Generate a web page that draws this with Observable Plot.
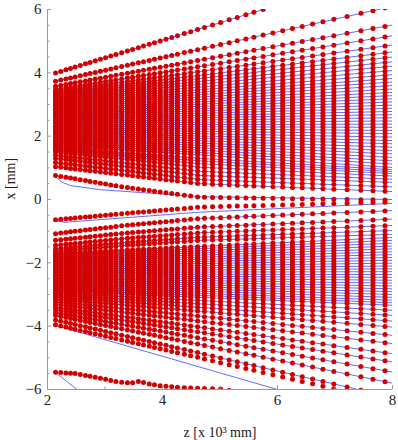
<!DOCTYPE html>
<html><head><meta charset="utf-8">
<script src="https://cdn.jsdelivr.net/npm/d3@7"></script>
<script src="https://cdn.jsdelivr.net/npm/@observablehq/plot@0.6"></script>
<style>html,body{margin:0;padding:0;background:#fff} svg{display:block}</style>
</head><body><div id="chart"></div>
<script>
// z positions (x 10^3 mm) of the sampled columns of red dots
const zColumns = [2.14, 2.23, 2.32, 2.40, 2.48, 2.57, 2.66, 2.74, 2.83, 2.92, 3.01, 3.10, 3.19, 3.29, 3.39, 3.48, 3.58, 3.67, 3.77, 3.86, 3.96, 4.06, 4.16, 4.26, 4.38, 4.49, 4.61, 4.73, 4.87, 5.01, 5.16, 5.30, 5.45, 5.59, 5.75, 5.92, 6.09, 6.26, 6.43, 6.61, 6.79, 6.98, 7.21, 7.45, 7.66, 7.87];

// straight trajectories: [x at z=2.13, x at z=8] (mm)
const straightKnotsZ = [2.13, 8];
const upperStraight = [[3.99,7.25],[3.73,6.10],[3.57,5.51],[3.47,5.17],[3.41,4.88],[3.36,4.66],[3.31,4.50],[3.26,4.35],[3.21,4.21],[3.16,4.07],[3.11,3.94],[3.06,3.82],[3.01,3.71],[2.96,3.60],[2.91,3.49],[2.86,3.38],[2.81,3.28],[2.76,3.18],[2.71,3.08],[2.66,2.98],[2.61,2.88],[2.56,2.78],[2.51,2.68],[2.46,2.58],[2.41,2.48],[2.36,2.38],[2.31,2.28],[2.26,2.18],[2.21,2.08],[2.16,1.97],[2.11,1.86],[2.06,1.76],[2.01,1.65],[1.96,1.54],[1.91,1.44],[1.86,1.33],[1.81,1.22],[1.76,1.12],[1.71,1.01]];
const lowerStraight = [[-1.70,-1.20],[-1.75,-1.29],[-1.80,-1.38],[-1.85,-1.47],[-1.90,-1.56],[-1.95,-1.65],[-2.00,-1.74],[-2.05,-1.83],[-2.10,-1.92],[-2.15,-2.01],[-2.20,-2.10],[-2.25,-2.19],[-2.30,-2.28],[-2.35,-2.37],[-2.40,-2.46],[-2.45,-2.55],[-2.50,-2.64],[-2.55,-2.73],[-2.60,-2.82],[-2.65,-2.91],[-2.70,-3.00],[-2.75,-3.09],[-2.80,-3.18],[-2.85,-3.26],[-2.90,-3.34],[-2.96,-3.50],[-3.02,-3.66],[-3.08,-3.84],[-3.15,-4.03],[-3.23,-4.29],[-3.31,-4.55],[-3.40,-4.87],[-3.48,-5.13],[-3.57,-5.45],[-3.66,-5.80],[-3.80,-6.25]];

// bending trajectories near the axis: x at z = 2.13, 3.3, 4.65, 8
const curvedKnotsZ = [2.13, 3.3, 4.65, 8];
const curvedTracks = [[1.66,1.48,1.30,0.94],[1.61,1.42,1.22,0.88],[1.56,1.36,1.13,0.82],[1.50,1.28,1.02,0.74],[1.40,1.16,0.89,0.64],[1.30,1.05,0.76,0.54],[1.17,0.92,0.63,0.40],[1.04,0.79,0.50,0.25],[-1.08,-0.83,-0.60,-0.35],[-1.29,-1.07,-0.87,-0.62],[-1.45,-1.24,-1.05,-0.82],[-1.56,-1.37,-1.19,-0.98],[-1.64,-1.46,-1.29,-1.10]];

// tracks where simulation (dots) and model (line) differ
const outerDotsX = [-3.95, -6.40];          // at z = 2.13, 8
const outerLineX = [-3.97, -7.05];          // at z = 2.13, 8
const centerUpDotsX = [0.76, 0.40, 0.07, -0.02];   // at curvedKnotsZ
const centerUpLineZ = [2.13, 2.25, 2.40, 2.92, 3.78, 4.65, 8];
const centerUpLineX = [0.74, 0.55, 0.44, 0.31, 0.20, 0.09, 0.00];
const centerLowDotsX = [-0.64, -0.45, -0.24, -0.08]; // at curvedKnotsZ
const centerLowLineZ = [2.13, 2.30, 4.65, 8];
const centerLowLineX = [-0.66, -0.72, -0.40, -0.12];
const bottomDotsZ = [2.13, 2.50, 2.85, 3.20, 3.45, 3.60, 3.75, 3.95, 4.40, 5.00, 5.40];
const bottomDotsX = [-5.45, -5.50, -5.62, -5.75, -5.80, -5.74, -5.82, -5.88, -5.95, -5.98, -6.10];
const bottomLineZ = [2.13, 2.65];
const bottomLineX = [-5.45, -6.20];

// axes
const xMajorTicks = [2, 4, 6, 8];
const xMinorTicks = [3, 5, 7];
const yMajorTicks = [-6, -4, -2, 0, 2, 4, 6];
const yMinorTicks = [-5.5, -5, -4.5, -3.5, -3, -2.5, -1.5, -1, -0.5, 0.5, 1, 1.5, 2.5, 3, 3.5, 4.5, 5, 5.5];
const xLabel = "z [x 10³ mm]";
const yLabel = "x [mm]";

function xAt(kz, kx, z) {
  for (let i = 1; i < kz.length; i++) {
    if (z <= kz[i]) {
      const t = (z - kz[i-1]) / (kz[i] - kz[i-1]);
      return kx[i-1] + t * (kx[i] - kx[i-1]);
    }
  }
  return kx[kx.length - 1];
}

const lineTracks = [];
const dotTracks = [];
let id = 0;
function addTrack(lz, lx, dz, dx) {
  id++;
  lineTracks.push({id, kz: lz, kx: lx});
  dotTracks.push({id, kz: dz, kx: dx});
}
for (const p of upperStraight) addTrack(straightKnotsZ, p, straightKnotsZ, p);
for (const p of lowerStraight) addTrack(straightKnotsZ, p, straightKnotsZ, p);
for (const p of curvedTracks) addTrack(curvedKnotsZ, p, curvedKnotsZ, p);
addTrack(straightKnotsZ, outerLineX, straightKnotsZ, outerDotsX);
addTrack(centerUpLineZ, centerUpLineX, curvedKnotsZ, centerUpDotsX);
addTrack(centerLowLineZ, centerLowLineX, curvedKnotsZ, centerLowDotsX);
addTrack(bottomLineZ, bottomLineX, bottomDotsZ, bottomDotsX);

const lineData = lineTracks.flatMap(t => t.kz.map((z, i) => ({id: t.id, z, x: t.kx[i]})));
const dotData = dotTracks.flatMap(t => zColumns
  .filter(z => z >= t.kz[0] && z <= t.kz[t.kz.length - 1])
  .map(z => ({id: t.id, z, x: xAt(t.kz, t.kx, z)})));

const axisGray = "#9a9a9a";
const chart = Plot.plot({
  width: 398, height: 440,
  marginLeft: 47, marginRight: 6, marginTop: 9, marginBottom: 51,
  x: {domain: [2, 8]},
  y: {domain: [-6, 6]},
  style: {fontFamily: "'Liberation Serif', 'DejaVu Serif', serif", fontSize: "14px", background: "#fff", color: "#222"},
  marks: [
    Plot.line(lineData, {x: "z", y: "x", z: "id", stroke: "#4f5cff", strokeWidth: 0.9, clip: true}),
    Plot.dot(dotData, {x: "z", y: "x", r: 2.5, fill: "#d40000", stroke: "none", clip: true}),
    Plot.ruleX([2], {stroke: axisGray, strokeWidth: 1}),
    Plot.ruleY([-6], {stroke: axisGray, strokeWidth: 1}),
    Plot.tickX(xMajorTicks, {x: d => d, insetTop: 376, stroke: axisGray}),
    Plot.tickX(xMinorTicks, {x: d => d, insetTop: 377.5, stroke: axisGray}),
    Plot.tickY(yMajorTicks, {y: d => d, insetRight: 341, stroke: axisGray}),
    Plot.tickY(yMinorTicks, {y: d => d, insetRight: 342.5, stroke: axisGray}),
    Plot.axisX({ticks: xMajorTicks, tickFormat: d3.format("d"), tickSize: 0, tickPadding: 5, label: null, fontSize: 15}),
    Plot.axisY({ticks: yMajorTicks, tickFormat: d => d3.format("d")(d).replace("-", "\u2212"), tickSize: 0, tickPadding: 6, label: null, fontSize: 15}),
    Plot.text([xLabel], {frameAnchor: "bottom", dy: 43, lineAnchor: "middle", fontSize: 14}),
    Plot.text([yLabel], {frameAnchor: "left", dx: -37, rotate: -90, lineAnchor: "middle", fontSize: 14})
  ]
});
document.getElementById("chart").append(chart);
</script>
</body></html>
